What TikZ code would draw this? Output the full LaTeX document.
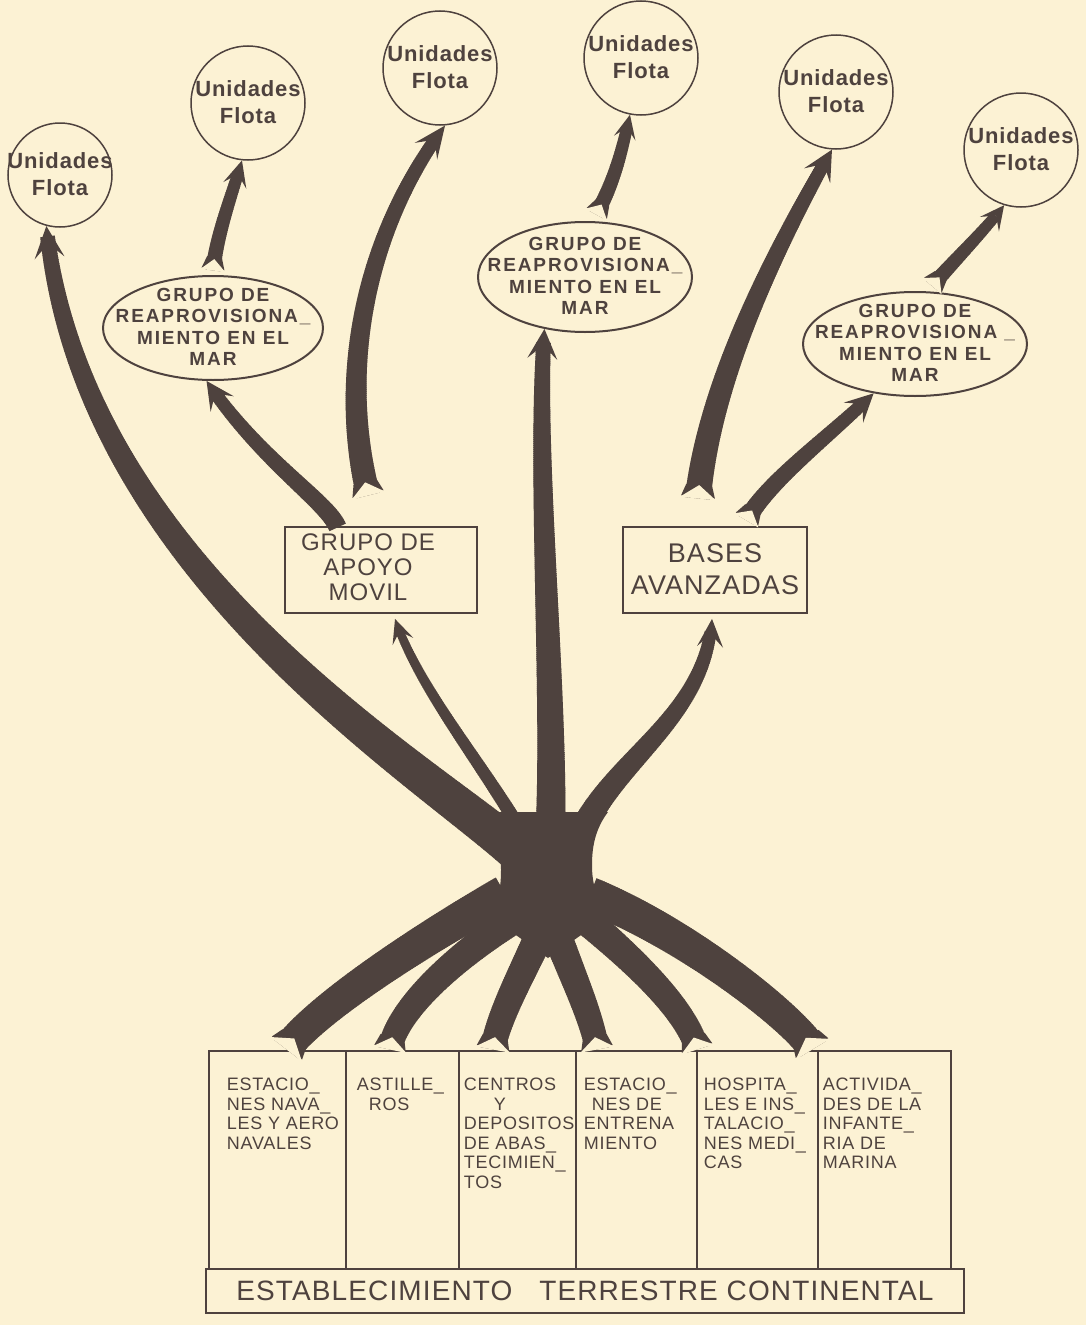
\documentclass[tikz,border=0pt]{standalone}
\usepackage{fontspec}
\setmainfont{Liberation Sans}
\newfontfamily\hand[LetterSpace=4]{Liberation Sans}
\newfontfamily\handwide[LetterSpace=10]{Liberation Sans}
\usetikzlibrary{shapes.geometric,decorations.markings,calc}
\definecolor{paperc}{RGB}{252,242,212}
\definecolor{inkc}{RGB}{78,66,62}
\newcommand\stk[2][0pt]{\makebox[0pt]{\hspace*{#1}\raisebox{-.3em}[0pt][0pt]{\begin{tabular}{@{}c@{}}#2\end{tabular}}}}
\newcommand\cellstack[2]{\parbox[t][166pt][t]{#1}{\begin{tabular}[t]{@{}l@{}}#2\end{tabular}}}

\tikzset{
  fleet/.style={circle, draw=inkc, line width=1.5pt, minimum size=114pt, inner sep=0pt, text=inkc,
    font={\hand\bfseries\fontsize{22}{27}\selectfont}},
  resupply/.style={ellipse, draw=inkc, line width=2pt, minimum width=220pt, minimum height=104pt, inner sep=0pt, text=inkc,
    font={\handwide\bfseries\fontsize{19}{21.5}\selectfont}},
  group/.style={rectangle, draw=inkc, line width=1.8pt, inner sep=0pt, text=inkc},
  cell/.style={rectangle, draw=inkc, line width=1.8pt, anchor=north west, minimum height=218pt, inner ysep=0pt, text=inkc,
    font={\hand\fontsize{18}{19.5}\selectfont}},
  % tapered shaft: start width, end width, cut before the end
  limb/.style n args={3}{postaction={decorate, decoration={markings,
    mark=between positions 0 and -#3pt step 2pt with {%
      \pgfmathsetmacro\halfw{0.5*(#1+(#2-#1)*(\pgfkeysvalueof{/pgf/decoration/mark info/distance from start}/\pgfdecoratedpathlength))}%
      \fill[inkc] (-1.4pt,-\halfw pt) rectangle (1.4pt,\halfw pt);}}}},
  head/.style 2 args={postaction={decorate, decoration={markings,
    mark=at position 0.9999 with {%
      \fill[inkc] (0pt,0pt) -- (-#1pt,0.5*#2pt) -- (-0.55*#1pt,0pt) -- (-#1pt,-0.5*#2pt) -- cycle;}}}},
  tail/.style 2 args={postaction={decorate, decoration={markings,
    mark=at position 0 with {%
      \fill[inkc] (0pt,-0.5*#1pt-4pt) -- (12pt,-0.5*#1pt) -- (12pt,0.5*#1pt) -- (0pt,0.5*#1pt+4pt) -- cycle;
      \fill[paperc] (-1.5pt,-0.5*#1pt-5pt) -- (#2pt,0pt) -- (-1.5pt,0.5*#1pt+5pt) -- cycle;}}}},
}

\begin{document}
\begin{tikzpicture}[x=1pt, y=-1pt]
  \fill[paperc] (0,0) rectangle (1086,1325);

  % fleet units
  \node[fleet, minimum size=104pt] (c1) at (60,175) {\stk{Unidades\\Flota}};
  \node[fleet] (c2) at (248,103) {\stk{Unidades\\Flota}};
  \node[fleet] (c3) at (440,68) {\stk{Unidades\\Flota}};
  \node[fleet] (c4) at (641,58) {\stk{Unidades\\Flota}};
  \node[fleet] (c5) at (836,92) {\stk{Unidades\\Flota}};
  \node[fleet] (c6) at (1021,150) {\stk{Unidades\\Flota}};

  % replenishment groups
  \node[resupply] (e1) at (213,328) {\stk{GRUPO DE\\REAPROVISIONA\_\\MIENTO EN EL\\MAR}};
  \node[resupply, minimum width=214pt, minimum height=110pt] (e2) at (585,277) {\stk{GRUPO DE\\REAPROVISIONA\_\\MIENTO EN EL\\MAR}};
  \node[resupply, minimum width=224pt] (e3) at (915,344) {\stk{GRUPO DE\\REAPROVISIONA \_\\MIENTO EN EL\\MAR}};

  \node[group, minimum width=192pt, minimum height=86pt, font={\hand\fontsize{24}{25}\selectfont}] (b1) at (381,570) {\stk[-26pt]{GRUPO DE\\APOYO\\MOVIL}};
  \node[group, minimum width=184pt, minimum height=86pt, font={\hand\fontsize{27}{32}\selectfont}] (b2) at (715,570) {\stk{BASES\\AVANZADAS}};

  % shore establishment
  \node[cell, minimum width=137pt, inner xsep=18pt] (k1) at (208,1050) {\cellstack{101pt}{ESTACIO\_\\NES NAVA\_\\LES Y AERO\\NAVALES}};
  \node[cell, minimum width=113pt, inner xsep=11pt] (k2) at (345,1050) {\cellstack{91pt}{ASTILLE\_\\\hspace*{12pt}ROS}};
  \node[cell, minimum width=117pt, inner xsep=5pt] (k3) at (458,1050) {\cellstack{107pt}{CENTROS\\\hspace*{30pt}Y\\DEPOSITOS\\DE ABAS\_\\TECIMIEN\_\\TOS}};
  \node[cell, minimum width=121pt, inner xsep=8pt] (k4) at (575,1050) {\cellstack{105pt}{ESTACIO\_\\\hspace*{8pt}NES DE\\ENTRENA\\MIENTO}};
  \node[cell, minimum width=121pt, inner xsep=7pt] (k5) at (696,1050) {\cellstack{107pt}{HOSPITA\_\\LES E INS\_\\TALACIO\_\\NES MEDI\_\\CAS}};
  \node[cell, minimum width=133pt, inner xsep=5pt] (k6) at (817,1050) {\cellstack{123pt}{ACTIVIDA\_\\DES DE LA\\INFANTE\_\\RIA DE\\MARINA}};
  \node[group, anchor=north west, minimum width=758pt, minimum height=44pt, font={\hand\fontsize{28}{30}\selectfont}] (base) at (205,1268) {ESTABLECIMIENTO\hspace{18pt} TERRESTRE CONTINENTAL};

  % trunk
  \coordinate (tk1) at (515,850);
  \coordinate (tk2) at (524,836);
  \coordinate (tk3) at (550,842);
  \coordinate (tk4) at (578,840);
  \fill[inkc] (488,812) .. controls (498,828) and (501,845) .. (501,870)
    .. controls (501,890) and (498,902) .. (488,915)
    -- (548,958) -- (610,915)
    .. controls (597,902) and (592,885) .. (592,865)
    .. controls (592,845) and (596,828) .. (608,812) -- cycle;

  % branches
  \path[limb={40}{14}{18}, head={32}{30}] (tk1) .. controls (410,760) and (80,560) .. (c1.-105);
  \path[limb={14}{8}{13}, head={24}{22}] (tk2) .. controls (480,760) and (420,690) .. ($(b1.south)+(14,5)$);
  \path[limb={30}{14}{17}, head={30}{30}] (tk3) .. controls (556,700) and (535,460) .. (e2.-128);
  \path[limb={26}{11}{15}, head={28}{26}] (tk4) .. controls (610,760) and (705,720) .. ($(b2.south)+(-3,5)$);

  \path[limb={18}{12}{15}, head={28}{28}] ($(b1.north west)+(53,0)$) .. controls (325,500) and (260,460) .. (e1.-97);
  \coordinate (t3) at (368,494);
  \path[limb={24}{12}{18}, head={32}{28}, tail={24}{12}] (t3) .. controls (340,380) and (360,240) .. (c3.-85);
  \path[limb={15}{11}{14}, head={26}{24}, tail={15}{10}] ($(e1.north)+(0,-6)$) .. controls (218,230) and (232,195) .. (c2.-96);

  \path[limb={15}{11}{13}, head={24}{22}, tail={15}{10}] ($(e2.78)+(0,-8)$) .. controls (615,180) and (622,150) .. (c4.-101);

  \coordinate (t5) at (698,497);
  \path[limb={26}{12}{17}, head={30}{30}, tail={26}{12}] (t5) .. controls (710,380) and (775,250) .. (c5.-94);
  \path[limb={18}{12}{15}, head={28}{28}, tail={18}{10}] ($(b2.north)+(32,-7)$) .. controls (770,480) and (825,440) .. (e3.-130);
  \path[limb={15}{10}{13}, head={24}{24}, tail={15}{10}] ($(e3.north)+(18,-6)$) .. controls (950,265) and (985,230) .. (c6.-107);

  % roots
  \coordinate (r1) at (287,1048);
  \coordinate (r2) at (390,1048);
  \coordinate (r3) at (493,1048);
  \coordinate (r4) at (597,1048);
  \coordinate (r5) at (697,1048);
  \coordinate (r6) at (812,1048);
  \coordinate (rk1) at (505,893);
  \coordinate (rk2) at (520,915);
  \coordinate (rk3) at (548,915);
  \coordinate (rk4) at (550,915);
  \coordinate (rk5) at (580,915);
  \coordinate (rk6) at (590,895);
  \path[limb={30}{36}{1}, tail={30}{12}] (r1) .. controls (320,1005) and (430,935) .. (rk1);
  \path[limb={24}{30}{1}, tail={24}{11}] (r2) .. controls (398,1010) and (450,960) .. (rk2);
  \path[limb={25}{30}{1}, tail={25}{11}] (r3) .. controls (500,1010) and (530,960) .. (rk3);
  \path[limb={24}{30}{1}, tail={24}{11}] (r4) .. controls (590,1010) and (565,960) .. (rk4);
  \path[limb={24}{30}{1}, tail={24}{11}] (r5) .. controls (685,1010) and (640,965) .. (rk5);
  \path[limb={30}{36}{1}, tail={30}{12}] (r6) .. controls (795,1020) and (690,935) .. (rk6);
\end{tikzpicture}
\end{document}
